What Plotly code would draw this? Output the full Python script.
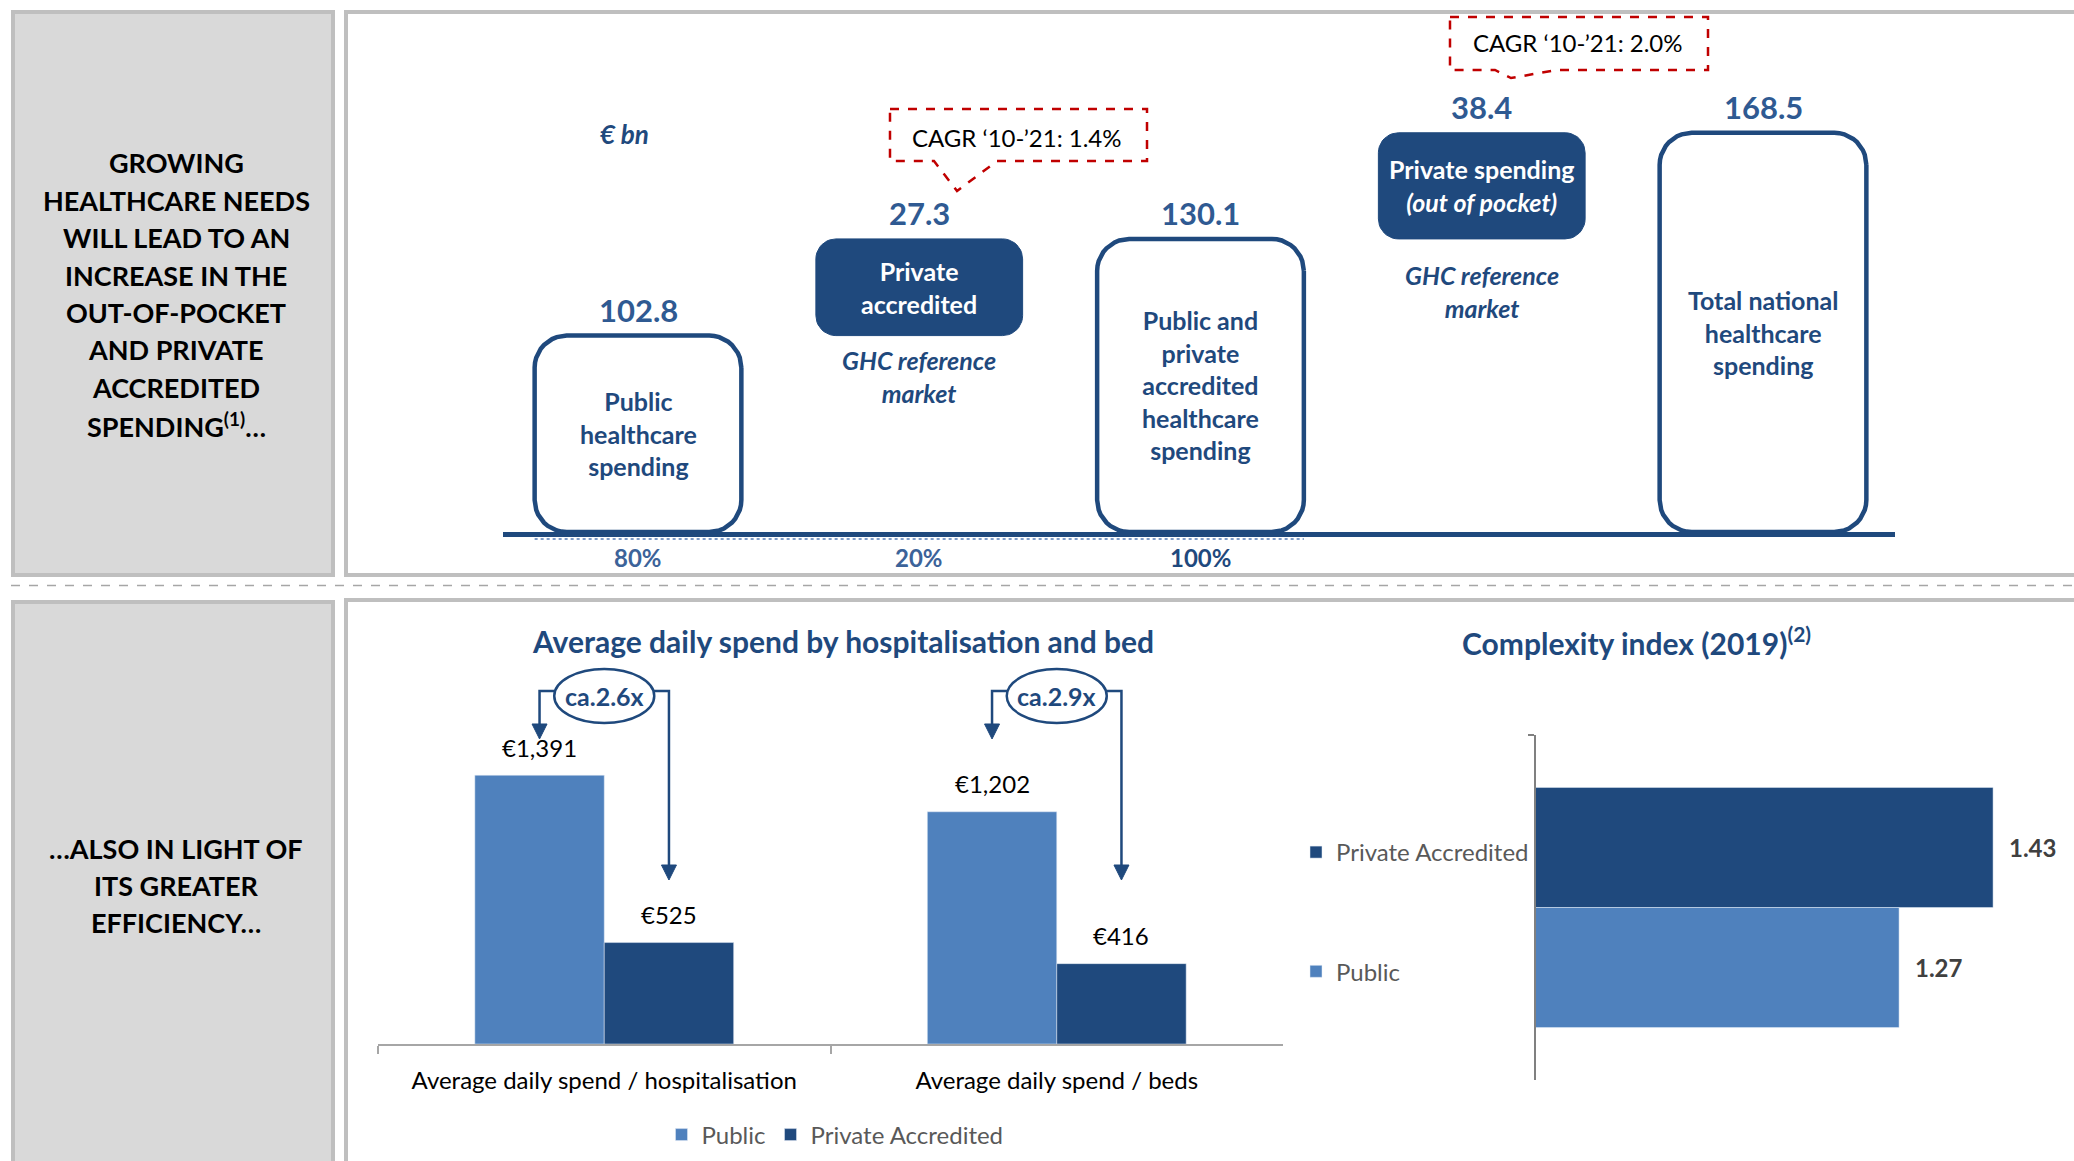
import math
import plotly.graph_objects as go

# ---------------- data ----------------
spend_labels = ["Public<br>healthcare<br>spending",
                "Private<br>accredited",
                "Public and<br>private<br>accredited<br>healthcare<br>spending",
                "Private spending<br><i>(out of pocket)</i>",
                "Total national<br>healthcare<br>spending"]
spend_values = [102.8, 27.3, 130.1, 38.4, 168.5]
spend_measure = ["absolute", "relative", "total", "relative", "total"]
share_labels = ["80%", "20%", "100%"]
cagr_labels = ["CAGR \u201810-\u201921: 1.4%", "CAGR \u201810-\u201921: 2.0%"]

daily_categories = ["Average daily spend / hospitalisation", "Average daily spend / beds"]
daily_public = [1391, 1202]
daily_private = [525, 416]

complexity_series = ["Public", "Private Accredited"]
complexity_values = [1.27, 1.43]

top_panel_lines = ["GROWING", "HEALTHCARE NEEDS", "WILL LEAD TO AN", "INCREASE IN THE",
                   "OUT-OF-POCKET", "AND PRIVATE", "ACCREDITED", "SPENDING<sup>(1)</sup>\u2026"]
bottom_panel_lines = ["\u2026ALSO IN LIGHT OF", "ITS GREATER", "EFFICIENCY\u2026"]

# ---------------- styling ----------------
W, H = 2074, 1161
def PX(x): return x / W
def PY(y): return 1 - y / H

FONT = "Lato, 'Open Sans', 'DejaVu Sans', sans-serif"
NAVY = "#1F497D"
LIGHT = "#4F81BD"
VALBLUE = "#2F5A92"
PCTBLUE = "#3C6399"
GRAYTXT = "#595959"
PANEL_GRAY = "#D9D9D9"
BORDER = "#BFBFBF"
RED = "#C00000"

fig = go.Figure()
ann = []
shapes = []

def text(x, y, t, size, color="black", xref="paper", yref="paper", **kw):
    d = dict(x=x, y=y, xref=xref, yref=yref, text=t, showarrow=False,
             xanchor="center", yanchor="middle",
             font=dict(family=FONT, size=size, color=color))
    d.update(kw)
    ann.append(d)

# ---------------- panels ----------------
for (x0, y0, x1, y1, fill) in [(13, 12, 333, 575, PANEL_GRAY), (346, 12, 2095, 575, "white"),
                               (13, 602, 333, 1185, PANEL_GRAY), (346, 600, 2095, 1185, "white")]:
    shapes.append(dict(type="rect", xref="paper", yref="paper", layer="below",
                       x0=PX(x0), x1=PX(x1), y0=PY(y0), y1=PY(y1),
                       fillcolor=fill, line=dict(color=BORDER, width=4)))
shapes.append(dict(type="line", xref="paper", yref="paper", layer="below",
                   x0=PX(11), x1=PX(2074), y0=PY(585.5), y1=PY(585.5),
                   line=dict(color="#A6A6A6", width=1.5, dash="dash")))

for i, ln in enumerate(top_panel_lines):
    text(PX(176), PY(163 + 37.4 * i), "<b>" + ln + "</b>", 27)
for i, ln in enumerate(bottom_panel_lines):
    text(PX(176), PY(848 + 37 * i), "<b>" + ln + "</b>", 27)

# ---------------- top: spending waterfall ----------------
FLOOR = 63.7          # axis floor (log scale)
SX = 281.25           # px per category step
KY = 945.0            # px per decade
TOP_XR = [-0.48, 4.47]
LEFT_PX = 503.0
BASE_PX, TOPY_PX = 532.0, 10.0
ylog0 = math.log10(FLOOR)
ylog1 = ylog0 + (BASE_PX - TOPY_PX) / KY
HALF_W = 0.3675

bases, tops = [], []
running = 0.0
for v, m in zip(spend_values, spend_measure):
    if m == "relative":
        bases.append(running); tops.append(running + v); running += v
    else:
        bases.append(FLOOR); tops.append(v); running = v

def rrect(xc, hw, y0, y1, r, n=10):
    X0, X1 = (xc - hw) * SX, (xc + hw) * SX
    Y0, Y1 = math.log10(y0) * KY, math.log10(y1) * KY
    pts = []
    for cx, cy, a0, a1 in [(X1 - r, Y1 - r, 0, 90), (X0 + r, Y1 - r, 90, 180),
                           (X0 + r, Y0 + r, 180, 270), (X1 - r, Y0 + r, 270, 360)]:
        for k in range(n + 1):
            a = math.radians(a0 + (a1 - a0) * k / n)
            pts.append((cx + r * math.cos(a), cy + r * math.sin(a)))
    pts.append(pts[0])
    return [p[0] / SX for p in pts], [10 ** (p[1] / KY) for p in pts]

for i, (v, m) in enumerate(zip(spend_values, spend_measure)):
    rel = m == "relative"
    xs, ys = rrect(i, HALF_W, bases[i], tops[i], 20 if rel else 32)
    fig.add_trace(go.Scatter(x=xs, y=ys, mode="lines", fill="toself",
                             fillcolor=NAVY if rel else "white",
                             line=dict(color=NAVY, width=1 if rel else 4.5),
                             xaxis="x", yaxis="y", hoverinfo="skip", showlegend=False))
    mid = (math.log10(bases[i]) + math.log10(tops[i])) / 2
    text(i, mid, "<b>" + spend_labels[i] + "</b>", 25, "white" if rel else NAVY, xref="x", yref="y")
    text(i, math.log10(tops[i]), "<b>%.1f</b>" % v, 31, VALBLUE, xref="x", yref="y", yshift=26)

for i, s in enumerate(share_labels):
    text(i, PY(557), "<b>" + s + "</b>", 24, NAVY if i == 2 else PCTBLUE, xref="x")

ghc_px = {1: 376, 3: 291}
for i, py in ghc_px.items():
    text(i, PY(py), "<b><i>GHC reference<br>market</i></b>", 25, NAVY, xref="x")

text(PX(624), PY(134), "<b><i>\u20ac bn</i></b>", 26, NAVY)

shapes.append(dict(type="line", xref="x", yref="paper", x0=-HALF_W, x1=2 + HALF_W,
                   y0=PY(539), y1=PY(539), line=dict(color="#7F9CC8", width=2, dash="dot")))

def paper_path(points):
    return "M" + " L".join("%.5f,%.5f" % (PX(x), PY(y)) for x, y in points) + " Z"

callouts = [
    [(890, 109), (1147, 109), (1147, 161), (997, 161), (957, 191), (934, 161), (890, 161)],
    [(1450, 17), (1708, 17), (1708, 70), (1557, 70), (1511, 78), (1495, 70), (1450, 70)],
]
callout_text_pos = [(1017, 137), (1578, 43)]
for pts, (tx, ty), lab in zip(callouts, callout_text_pos, cagr_labels):
    shapes.append(dict(type="path", xref="paper", yref="paper", path=paper_path(pts),
                       fillcolor="white", line=dict(color=RED, width=2.5, dash="dash")))
    text(PX(tx), PY(ty), lab, 24, "black")

# ---------------- bottom-left: daily spend ----------------
X2L, X2R = 378, 1283
BASE2_PX, TOP2_PX = 1044, 660
K2 = 0.1932
Y2_MAX = (BASE2_PX - TOP2_PX) / K2
BW = 0.286
UNIT2 = (X2R - X2L) / 2.0

fig.add_trace(go.Bar(x=daily_categories, y=daily_public, name="Public", marker_color=LIGHT,
                     width=BW, offset=-BW, xaxis="x2", yaxis="y2", legend="legend",
                     hoverinfo="skip"))
fig.add_trace(go.Bar(x=daily_categories, y=daily_private, name="Private Accredited", marker_color=NAVY,
                     width=BW, offset=0, xaxis="x2", yaxis="y2", legend="legend",
                     hoverinfo="skip"))

for i, (pub, pri) in enumerate(zip(daily_public, daily_private)):
    text(i - BW / 2, pub, "\u20ac{:,}".format(pub), 24, "black", xref="x2", yref="y2", yshift=28)
    text(i + BW / 2, pri, "\u20ac{:,}".format(pri), 24, "black", xref="x2", yref="y2", yshift=28)
    xl, xr = i - BW / 2, i + BW / 2
    shapes.append(dict(type="path", xref="x2", yref="paper",
                       path="M%.5f,%.5f L%.5f,%.5f L%.5f,%.5f L%.5f,%.5f" % (
                           xl, PY(726), xl, PY(691), xr, PY(691), xr, PY(866)),
                       line=dict(color=NAVY, width=2.5)))
    hw = 7.5 / UNIT2
    for xt, yb, ytip in [(xl, 724, 739), (xr, 865, 880)]:
        shapes.append(dict(type="path", xref="x2", yref="paper",
                           path="M%.5f,%.5f L%.5f,%.5f L%.5f,%.5f Z" % (
                               xt - hw, PY(yb), xt + hw, PY(yb), xt, PY(ytip)),
                           fillcolor=NAVY, line=dict(color=NAVY, width=1)))
    shapes.append(dict(type="circle", xref="x2", yref="paper",
                       x0=i - 50 / UNIT2, x1=i + 50 / UNIT2, y0=PY(723), y1=PY(669),
                       fillcolor="white", line=dict(color=NAVY, width=2.5)))
    text(i, PY(696), "<b>ca.%.1fx</b>" % (pub / pri), 25, NAVY, xref="x2")

text(PX(843), PY(641), "<b>Average daily spend by hospitalisation and bed</b>", 30, NAVY)

# ---------------- bottom-right: complexity index ----------------
X3L = 1536
K3 = 587.5
X3_MIN = 0.652
X3_MAX = X3_MIN + (W - X3L) / K3
BH = 0.348
cols = {"Public": LIGHT, "Private Accredited": NAVY}
offs = {"Public": -BH, "Private Accredited": 0.0}
for name, val in reversed(list(zip(complexity_series, complexity_values))):
    fig.add_trace(go.Bar(x=[val], y=["2019"], orientation="h", name=name, marker_color=cols[name],
                         width=BH, offset=offs[name], xaxis="x3", yaxis="y3", legend="legend2",
                         legendgroup=name, hoverinfo="skip"))
    text(val, offs[name] + BH / 2, "<b>%.2f</b>" % val, 24, "#404040", xref="x3", yref="y3",
         xanchor="left", xshift=14)

text(PX(1636), PY(641), "<b>Complexity index (2019)<sup>(2)</sup></b>", 30, NAVY)

# ---------------- layout ----------------
fig.update_layout(
    width=W, height=H, margin=dict(l=0, r=0, t=0, b=0),
    paper_bgcolor="white", plot_bgcolor="rgba(0,0,0,0)",
    barmode="overlay", font=dict(family=FONT),
    xaxis=dict(domain=[PX(LEFT_PX), PX(LEFT_PX + (TOP_XR[1] - TOP_XR[0]) * SX)], range=TOP_XR,
               anchor="y", showline=True, linecolor=NAVY, linewidth=5, showticklabels=False,
               ticks="", showgrid=False, zeroline=False, fixedrange=True),
    yaxis=dict(domain=[PY(BASE_PX), PY(TOPY_PX)], type="log", range=[ylog0, ylog1],
               anchor="x", visible=False, fixedrange=True),
    xaxis2=dict(domain=[PX(X2L), PX(X2R)], anchor="y2", type="category", showline=True,
                linecolor="#A6A6A6", linewidth=2, ticks="outside", tickson="boundaries",
                ticklen=8, tickwidth=2, tickcolor="#A6A6A6", showgrid=False, zeroline=False,
                tickfont=dict(family=FONT, size=24, color="black"), ticklabelstandoff=14),
    yaxis2=dict(domain=[PY(BASE2_PX), PY(TOP2_PX)], anchor="x2", range=[0, Y2_MAX], visible=False),
    xaxis3=dict(domain=[PX(X3L), 1.0], anchor="y3", range=[X3_MIN, X3_MAX], visible=False),
    yaxis3=dict(domain=[PY(1080), PY(735)], anchor="x3", type="category", range=[-0.5, 0.5],
                showline=True, linecolor="#808080", linewidth=2, ticks="outside",
                tickson="boundaries", ticklen=6, tickwidth=2, tickcolor="#808080",
                showticklabels=False, showgrid=False, zeroline=False),
    legend=dict(orientation="h", x=PX(835), xanchor="center", y=PY(1135), yanchor="middle",
                font=dict(family=FONT, size=24, color=GRAYTXT), bgcolor="rgba(0,0,0,0)"),
    legend2=dict(orientation="v", x=PX(1296), xanchor="left", y=PY(912), yanchor="middle",
                 traceorder="grouped", tracegroupgap=85,
                 font=dict(family=FONT, size=24, color=GRAYTXT), bgcolor="rgba(0,0,0,0)"),
    shapes=shapes, annotations=ann,
)

fig.write_html("out.html")
